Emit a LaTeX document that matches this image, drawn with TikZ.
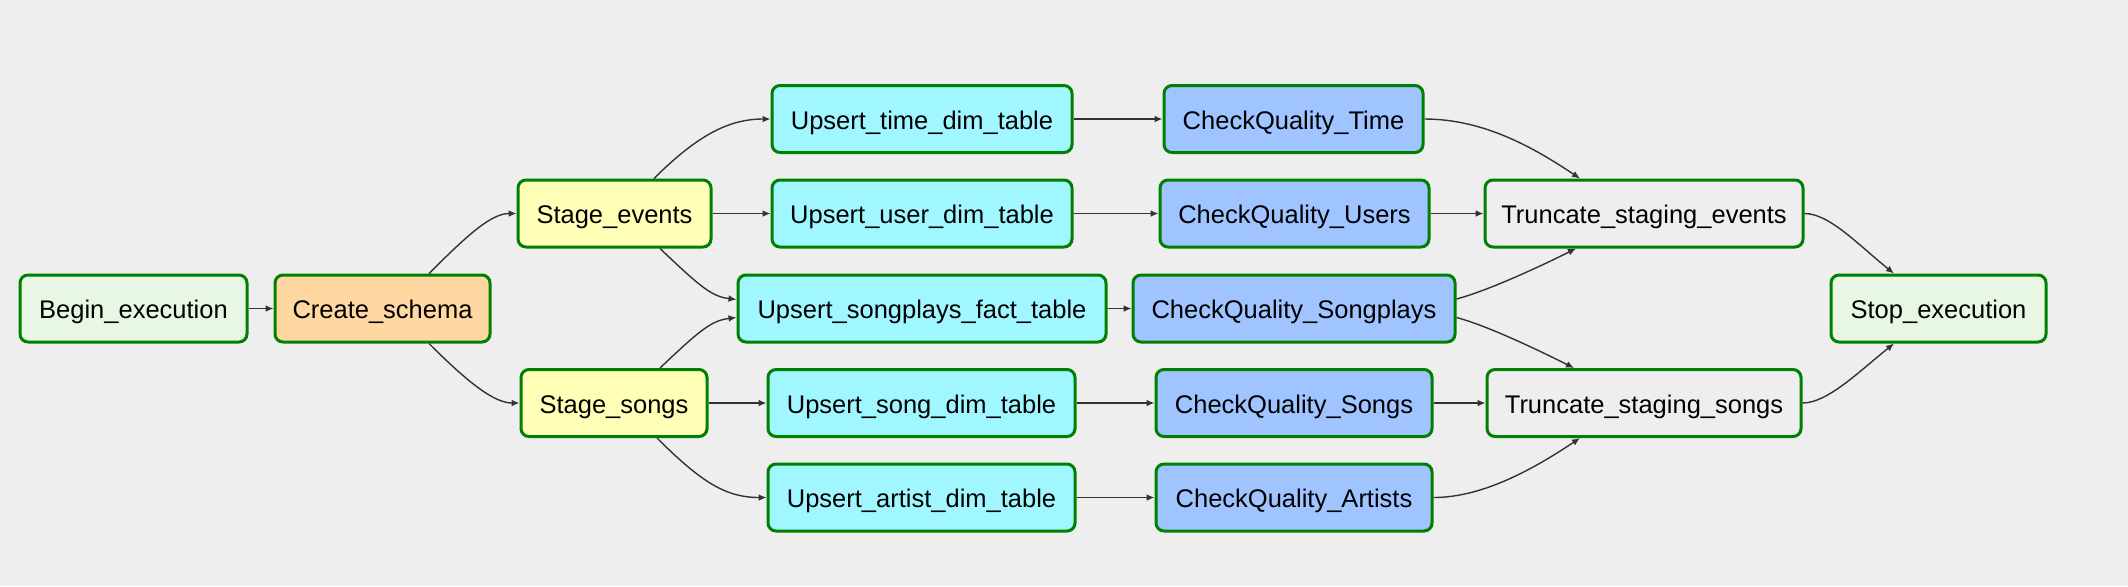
\documentclass[tikz,border=0pt]{standalone}
\usepackage{fontspec}
\setmainfont{Liberation Sans}
\usetikzlibrary{arrows.meta}
\definecolor{bg}{HTML}{EEEEEE}
\definecolor{okgreen}{HTML}{008000}
\definecolor{edgec}{HTML}{333333}
\definecolor{cbegin}{HTML}{E8F7E4}
\definecolor{cschema}{HTML}{FFD7A1}
\definecolor{cstage}{HTML}{FFFFB8}
\definecolor{cupsert}{HTML}{A0F7FF}
\definecolor{ccheck}{HTML}{A0C4FF}
\tikzset{
  tbox/.style={draw=okgreen, line width=1.5pt, rounded corners=4pt, minimum height=33.5pt,
    inner sep=0pt, text height=10pt, text depth=0pt,
    font=\fontsize{12.75}{14}\selectfont, text=black},
  conn/.style={draw=edgec, line width=0.7pt, -{Latex[length=4pt,width=3.4pt]}}
}
\begin{document}
\begin{tikzpicture}[x=0.5pt,y=-0.5pt]
\fill[bg] (0,0) rectangle (2128,586);
\useasboundingbox (0,0) rectangle (2128,586);
% nodes
\node[tbox, fill=cbegin, minimum width=113.5pt] (begin) at (133.5,308.5) {Begin\_execution};
\node[tbox, fill=cschema, minimum width=107.5pt] (create) at (382.5,308.5) {Create\_schema};
\node[tbox, fill=cstage, minimum width=96.5pt] (sevents) at (614.5,213.5) {Stage\_events};
\node[tbox, fill=cstage, minimum width=93pt] (ssongs) at (614,403) {Stage\_songs};
\node[tbox, fill=cupsert, minimum width=150pt] (utime) at (922,119) {Upsert\_time\_dim\_table};
\node[tbox, fill=cupsert, minimum width=150pt] (uuser) at (922,213.5) {Upsert\_user\_dim\_table};
\node[tbox, fill=cupsert, minimum width=184pt] (usongplays) at (922,308.5) {Upsert\_songplays\_fact\_table};
\node[tbox, fill=cupsert, minimum width=153.5pt] (usong) at (921.5,403) {Upsert\_song\_dim\_table};
\node[tbox, fill=cupsert, minimum width=153.5pt] (uartist) at (921.5,497.5) {Upsert\_artist\_dim\_table};
\node[tbox, fill=ccheck, minimum width=129.5pt] (cqtime) at (1293.5,119) {CheckQuality\_Time};
\node[tbox, fill=ccheck, minimum width=134.5pt] (cqusers) at (1294.5,213.5) {CheckQuality\_Users};
\node[tbox, fill=ccheck, minimum width=161pt] (cqsongplays) at (1294,308.5) {CheckQuality\_Songplays};
\node[tbox, fill=ccheck, minimum width=138pt] (cqsongs) at (1294,403) {CheckQuality\_Songs};
\node[tbox, fill=ccheck, minimum width=138pt] (cqartists) at (1294,497.5) {CheckQuality\_Artists};
\node[tbox, fill=bg, minimum width=159pt] (tevents) at (1644,213.5) {Truncate\_staging\_events};
\node[tbox, fill=bg, minimum width=157pt] (tsongs) at (1644,403) {Truncate\_staging\_songs};
\node[tbox, fill=cbegin, minimum width=107.5pt] (stop) at (1938.5,308.5) {Stop\_execution};
% connectors
\draw[conn] (begin.east) -- (create.west);
\draw[conn] ([xshift=23.25pt]create.north) .. controls +(40,-40) and +(-25,0) .. (sevents.west);
\draw[conn] ([xshift=23.25pt]create.south) .. controls +(40,40) and +(-25,0) .. (ssongs.west);
\draw[conn] ([xshift=19.75pt]sevents.north) .. controls +(45,-45) and +(-40,0) .. (utime.west);
\draw[conn] (sevents.east) -- (uuser.west);
\draw[conn] ([xshift=22.75pt]sevents.south) .. controls +(40,38) and +(-25,-3) .. ([yshift=4.5pt]usongplays.west);
\draw[conn] ([xshift=23pt]ssongs.north) .. controls +(40,-38) and +(-25,3) .. ([yshift=-4.5pt]usongplays.west);
\draw[conn] (ssongs.east) -- (usong.west);
\draw[conn] ([xshift=21.5pt]ssongs.south) .. controls +(45,45) and +(-40,0) .. (uartist.west);
\draw[conn] (utime.east) -- (cqtime.west);
\draw[conn] (uuser.east) -- (cqusers.west);
\draw[conn] (usongplays.east) -- (cqsongplays.west);
\draw[conn] (usong.east) -- (cqsongs.west);
\draw[conn] (uartist.east) -- (cqartists.west);
\draw[conn] (cqtime.east) .. controls +(60,0) and +(-45,-30) .. ([xshift=-32pt]tevents.north);
\draw[conn] (cqusers.east) -- (tevents.west);
\draw[conn] ([yshift=4.75pt]cqsongplays.east) .. controls +(30,-8) and +(-40,20) .. ([xshift=-34pt]tevents.south);
\draw[conn] ([yshift=-4.5pt]cqsongplays.east) .. controls +(30,8) and +(-40,-20) .. ([xshift=-35pt]tsongs.north);
\draw[conn] (cqsongs.east) -- (tsongs.west);
\draw[conn] (cqartists.east) .. controls +(50,0) and +(-45,30) .. ([xshift=-32pt]tsongs.south);
\draw[conn] (tevents.east) .. controls +(25,0) and +(-35,-28) .. ([xshift=-22.25pt]stop.north);
\draw[conn] (tsongs.east) .. controls +(25,0) and +(-35,28) .. ([xshift=-22.25pt]stop.south);
\end{tikzpicture}
\end{document}
